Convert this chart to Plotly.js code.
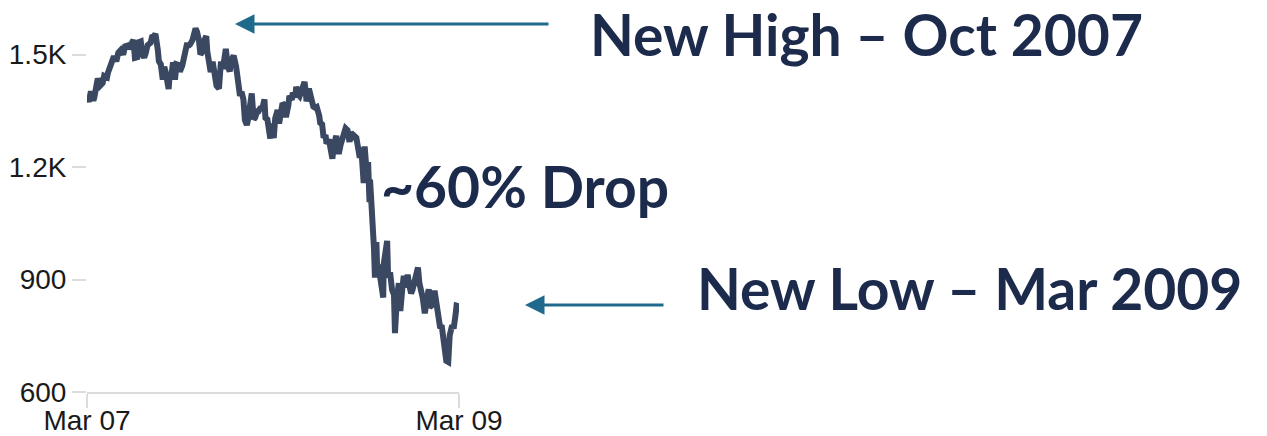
<!DOCTYPE html>
<html>
<head>
<meta charset="utf-8">
<script src="https://cdn.plot.ly/plotly-3.0.1.min.js"></script>
<style>html,body{margin:0;padding:0;background:#fff;}#chart{width:1267px;height:436px;}</style>
</head>
<body>
<div id="chart"></div>
<script>
const dates = [
"2007-03-01","2007-03-05","2007-03-09","2007-03-14","2007-03-16","2007-03-21","2007-03-23","2007-03-28",
"2007-04-02","2007-04-05","2007-04-11","2007-04-13","2007-04-18","2007-04-20","2007-04-25","2007-04-30",
"2007-05-04","2007-05-09","2007-05-14","2007-05-18","2007-05-23","2007-05-25","2007-05-31",
"2007-06-04","2007-06-07","2007-06-12","2007-06-15","2007-06-19","2007-06-22","2007-06-26","2007-06-29",
"2007-07-03","2007-07-09","2007-07-12","2007-07-16","2007-07-19","2007-07-24","2007-07-26","2007-07-30",
"2007-08-03","2007-08-06","2007-08-09","2007-08-15","2007-08-17","2007-08-21","2007-08-24","2007-08-28","2007-08-31",
"2007-09-05","2007-09-07","2007-09-12","2007-09-14","2007-09-18","2007-09-21","2007-09-26","2007-09-28",
"2007-10-03","2007-10-05","2007-10-09","2007-10-12","2007-10-16","2007-10-19","2007-10-22","2007-10-26","2007-10-31",
"2007-11-02","2007-11-07","2007-11-09","2007-11-13","2007-11-16","2007-11-21","2007-11-26","2007-11-28","2007-11-30",
"2007-12-04","2007-12-07","2007-12-10","2007-12-14","2007-12-18","2007-12-21","2007-12-26","2007-12-31",
"2008-01-04","2008-01-08","2008-01-11","2008-01-15","2008-01-18","2008-01-22","2008-01-25","2008-01-28",
"2008-02-01","2008-02-05","2008-02-08","2008-02-12","2008-02-15","2008-02-20","2008-02-22","2008-02-27","2008-02-29",
"2008-03-04","2008-03-07","2008-03-10","2008-03-13","2008-03-17","2008-03-20","2008-03-25","2008-03-28",
"2008-04-01","2008-04-04","2008-04-08","2008-04-11","2008-04-16","2008-04-18","2008-04-23","2008-04-25","2008-04-30",
"2008-05-02","2008-05-07","2008-05-09","2008-05-13","2008-05-19","2008-05-22","2008-05-23","2008-05-28","2008-05-30",
"2008-06-03","2008-06-06","2008-06-10","2008-06-13","2008-06-18","2008-06-20","2008-06-24","2008-06-27",
"2008-07-01","2008-07-03","2008-07-08","2008-07-11","2008-07-15","2008-07-18","2008-07-23","2008-07-25","2008-07-28",
"2008-08-01","2008-08-05","2008-08-08","2008-08-11","2008-08-15","2008-08-19","2008-08-22","2008-08-27","2008-08-29",
"2008-09-02","2008-09-05","2008-09-09","2008-09-12","2008-09-15","2008-09-17","2008-09-19","2008-09-23","2008-09-26","2008-09-29","2008-09-30",
"2008-10-03","2008-10-06","2008-10-08","2008-10-10","2008-10-13","2008-10-15","2008-10-17","2008-10-22","2008-10-24","2008-10-27","2008-10-28","2008-10-31",
"2008-11-04","2008-11-06","2008-11-10","2008-11-14","2008-11-18","2008-11-20","2008-11-21","2008-11-24","2008-11-28",
"2008-12-01","2008-12-05","2008-12-08","2008-12-12","2008-12-16","2008-12-19","2008-12-23","2008-12-26","2008-12-31",
"2009-01-06","2009-01-09","2009-01-13","2009-01-16","2009-01-20","2009-01-23","2009-01-28","2009-01-30",
"2009-02-04","2009-02-09","2009-02-12","2009-02-17","2009-02-20","2009-02-24","2009-02-27",
"2009-03-02","2009-03-05","2009-03-09","2009-03-12","2009-03-17","2009-03-20","2009-03-24","2009-03-26","2009-03-31"
];
const closeValues = [
1389,1374,1402,1377,1386,1435,1436,1417,
1424,1443,1439,1452,1471,1484,1495,1482,
1505,1512,1500,1522,1524,1515,1530,
1539,1491,1493,1533,1535,1502,1492,1503,
1525,1531,1547,1549,1555,1511,1482,1474,
1433,1467,1453,1408,1445,1447,1479,1433,1474,
1472,1454,1471,1484,1519,1525,1525,1527,
1539,1557,1569,1561,1538,1500,1506,1535,1549,
1509,1475,1453,1481,1458,1417,1409,1469,1481,
1462,1504,1515,1468,1455,1484,1497,1468,
1411,1390,1401,1380,1325,1312,1330,1353,
1396,1327,1332,1349,1349,1360,1353,1380,1331,
1327,1294,1276,1316,1277,1330,1352,1316,
1370,1370,1365,1333,1365,1390,1379,1398,1386,
1414,1392,1389,1404,1427,1394,1375,1409,1400,
1378,1361,1358,1360,1337,1318,1314,1278,
1285,1262,1273,1240,1222,1260,1283,1257,1235,
1260,1285,1296,1303,1298,1267,1293,1281,1283,
1278,1242,1225,1252,1193,1157,1255,1188,1213,1106,1166,
1099,1056,985,905,1000,908,940,896,877,852,941,969,
1003,905,919,873,859,757,800,852,890,
816,876,910,879,913,887,863,873,903,
932,890,871,850,810,832,874,826,
832,870,835,789,775,773,735,
700,683,680,751,778,769,806,830,828
];
const tickDates = ["2007-03-01","2009-03-31"];
const tickLabels = ["Mar 07","Mar 09"];
const yTickVals = [600,900,1200,1500];
const yTickLabels = ["600","900","1.2K","1.5K"];
const notes = ["New High – Oct 2007","~60% Drop","New Low – Mar 2009"];

const trace = {
  x: dates, y: closeValues, type: "scatter", mode: "lines",
  line: {color: "#3a4862", width: 6, shape: "linear"},
  hoverinfo: "skip"
};

const navy = "#1c2a4c";
const teal = "#1f6a8c";
const noteFont = {family: "Lato, 'Open Sans', sans-serif", size: 57, color: navy, weight: 700};

const layout = {
  width: 1267, height: 436,
  margin: {l: 87, r: 808, t: 17, b: 44, pad: 0},
  paper_bgcolor: "#ffffff", plot_bgcolor: "#ffffff",
  showlegend: false,
  xaxis: {
    type: "date", range: ["2007-03-01","2009-03-31"],
    tickmode: "array", tickvals: tickDates, ticktext: tickLabels,
    showgrid: false, zeroline: false,
    showline: true, linecolor: "#dcdcdc", linewidth: 2,
    ticks: "outside", ticklen: 14, tickwidth: 2, tickcolor: "#dcdcdc",
    ticklabelstandoff: -12,
    tickfont: {family: "'Liberation Sans', Arial, sans-serif", size: 28, color: "#1a1a1a"},
    fixedrange: true
  },
  yaxis: {
    range: [600, 1600],
    tickmode: "array", tickvals: yTickVals, ticktext: yTickLabels,
    showgrid: false, zeroline: false, showline: false,
    ticks: "outside", ticklen: 14, tickwidth: 2, tickcolor: "#dcdcdc",
    tickfont: {family: "'Liberation Sans', Arial, sans-serif", size: 28, color: "#1a1a1a"},
    fixedrange: true
  },
  annotations: [
    {xref: "paper", yref: "paper", x: 1.3468, y: 0.9547, xanchor: "left", yanchor: "middle",
     text: "<b>" + notes[0] + "</b>", showarrow: false, font: noteFont},
    {xref: "paper", yref: "paper", x: 0.785, y: 0.55, xanchor: "left", yanchor: "middle",
     text: "<b>" + notes[1] + "</b>", showarrow: false, font: noteFont},
    {xref: "paper", yref: "paper", x: 1.6344, y: 0.2773, xanchor: "left", yanchor: "middle",
     text: "<b>" + notes[2] + "</b>", showarrow: false, font: noteFont},
    {xref: "paper", yref: "paper", x: 0.3978, y: 0.9813, text: "", showarrow: true,
     axref: "pixel", ayref: "pixel", ax: 315, ay: 0, arrowhead: 2, arrowsize: 1.3, arrowwidth: 3,
     arrowcolor: teal, standoff: 0},
    {xref: "paper", yref: "paper", x: 1.1774, y: 0.232, text: "", showarrow: true,
     axref: "pixel", ayref: "pixel", ax: 140, ay: 0, arrowhead: 2, arrowsize: 1.3, arrowwidth: 3,
     arrowcolor: teal, standoff: 0}
  ]
};

Plotly.newPlot("chart", [trace], layout, {displayModeBar: false, staticPlot: true});
</script>
</body>
</html>
